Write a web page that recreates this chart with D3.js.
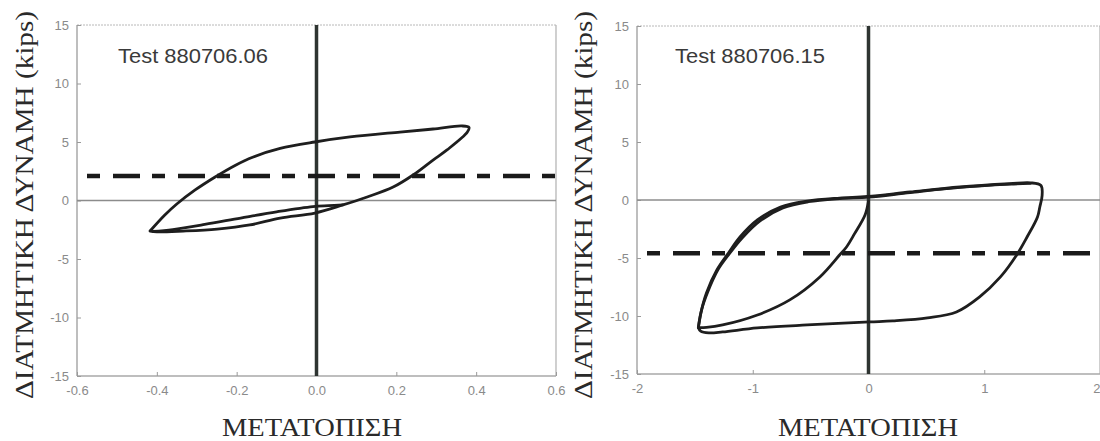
<!DOCTYPE html>
<html>
<head>
<meta charset="utf-8">
<script src="https://cdn.jsdelivr.net/npm/d3@7"></script>
<style>
  html, body { margin: 0; padding: 0; background: #fff; }
  svg { display: block; }
  .tick text { font-family: Arial, "Liberation Sans", sans-serif; font-size: 13px; fill: #8a8a8a; }
  .domain { display: none; }
  .tick line { stroke: #9a9a9a; stroke-width: 1; }
</style>
</head>
<body>
<svg id="chart" width="1100" height="441"></svg>
<script>
// ---- data: shear force (kips) vs displacement ----
const yTicks = [-15, -10, -5, 0, 5, 10, 15];
const yTickLabels = ["-15", "-10", "-5", "0", "5", "10", "15"];

const xTicksA = [-0.6, -0.4, -0.2, 0, 0.2, 0.4, 0.6];
const xTickLabelsA = ["-0.6", "-0.4", "-0.2", "0.0", "0.2", "0.4", "0.6"];
const xTicksB = [-2, -1, 0, 1, 2];
const xTickLabelsB = ["-2", "-1", "0", "1", "2"];

const titleA = "Test 880706.06";
const titleB = "Test 880706.15";
const yTitle = "ΔΙΑΤΜΗΤΙΚΗ ΔΥΝΑΜΗ (kips)";
const xTitle = "ΜΕΤΑΤΟΠΙΣΗ";

// Test 880706.06 hysteresis loop [displacement, force]
const loopA = [
  [-0.417, -2.61], [-0.380, -1.24], [-0.350, -0.30], [-0.304, 0.90], [-0.254, 2.01],
  [-0.204, 3.00], [-0.160, 3.70], [-0.091, 4.45], [-0.004, 5.00], [0.084, 5.43],
  [0.209, 5.85], [0.292, 6.11], [0.364, 6.37], [0.382, 6.25], [0.378, 5.85],
  [0.327, 4.32], [0.292, 3.46], [0.242, 2.18], [0.192, 1.15], [0.127, 0.30],
  [0.066, -0.38], [-0.004, -1.07], [-0.091, -1.50], [-0.167, -2.09], [-0.249, -2.44],
  [-0.334, -2.61], [-0.400, -2.68], [-0.417, -2.61]
];
// earlier pass on the negative side (inner branch)
const innerA = [
  [0.066, -0.38], [0.03, -0.44], [-0.009, -0.52], [-0.10, -0.97], [-0.19, -1.50],
  [-0.28, -2.05], [-0.36, -2.48], [-0.41, -2.64]
];
const dashA = 2.1;

// Test 880706.15: first loading from origin, then full cycles
const firstB = [
  [0.0, -0.10], [-0.03, -1.29], [-0.12, -2.90], [-0.19, -4.05], [-0.25, -4.74], [-0.42, -6.63],
  [-0.68, -8.61], [-0.96, -9.91], [-1.26, -10.77], [-1.40, -10.98], [-1.47, -11.0]
];
const loopB = [
  [-1.47, -11.0], [-1.45, -9.8], [-1.40, -8.01], [-1.31, -6.03], [-1.21, -4.57],
  [-1.11, -3.19], [-0.96, -1.72], [-0.76, -0.60], [-0.53, -0.09], [-0.25, 0.17],
  [-0.01, 0.30], [0.36, 0.69], [0.79, 1.12], [1.22, 1.40], [1.40, 1.48],
  [1.49, 1.25], [1.50, 0.40], [1.48, -0.60], [1.46, -1.46], [1.37, -3.19], [1.28, -4.74],
  [1.14, -6.63], [0.96, -8.35], [0.76, -9.65], [0.51, -10.16], [0.21, -10.42],
  [0.01, -10.51], [-0.53, -10.77], [-0.96, -11.03], [-1.26, -11.37], [-1.38, -11.45],
  [-1.45, -11.30], [-1.47, -11.0]
];
const secondB = [
  [-1.47, -11.0], [-1.44, -9.4], [-1.39, -7.95], [-1.30, -6.0], [-1.20, -4.6],
  [-1.09, -3.25], [-0.94, -1.82], [-0.74, -0.68], [-0.52, -0.15], [-0.25, 0.12], [0.0, 0.24],
  [0.36, 0.64], [0.79, 1.08], [1.22, 1.36], [1.40, 1.44]
];
const dashB = -4.6;

const svg = d3.select("#chart");

const panels = [
  { x: d3.scaleLinear([-0.6, 0.6], [77, 556]), y: d3.scaleLinear([-15, 15], [376, 25]),
    xTicks: xTicksA, xLabels: xTickLabelsA, title: titleA, titleX: 118,
    curves: [loopA, innerA], dash: dashA, yTitleX: 24, xTitleX: 312 },
  { x: d3.scaleLinear([-2, 2], [637, 1100]), y: d3.scaleLinear([-15, 15], [374, 26]),
    xTicks: xTicksB, xLabels: xTickLabelsB, title: titleB, titleX: 675,
    curves: [loopB, firstB, secondB], dash: dashB, yTitleX: 583, xTitleX: 868 }
];

panels.forEach(p => {
  const g = svg.append("g");
  const [x0, x1] = p.x.range();
  const [yb, yt] = p.y.range();

  // frame
  g.append("line").attr("x1", x0).attr("x2", x1).attr("y1", yt).attr("y2", yt)
    .attr("stroke", "#b8b8b8").attr("stroke-width", 1).attr("stroke-dasharray", "2,1");
  g.append("line").attr("x1", x1).attr("x2", x1).attr("y1", yt).attr("y2", yb)
    .attr("stroke", "#b0b0b0").attr("stroke-width", 1.2);
  g.append("line").attr("x1", x0).attr("x2", x1).attr("y1", yb).attr("y2", yb)
    .attr("stroke", "#a8a8a8").attr("stroke-width", 1.5);
  g.append("line").attr("x1", x0).attr("x2", x0).attr("y1", yt).attr("y2", yb)
    .attr("stroke", "#a8a8a8").attr("stroke-width", 1.5);

  // axes
  g.append("g").attr("transform", `translate(${x0},0)`)
    .call(d3.axisLeft(p.y).tickValues(yTicks).tickFormat((d, i) => yTickLabels[i])
      .tickSizeInner(-4).tickSizeOuter(0).tickPadding(8));
  const xAxis = g.append("g").attr("transform", `translate(0,${yb})`)
    .call(d3.axisBottom(p.x).tickValues(p.xTicks).tickFormat((d, i) => p.xLabels[i])
      .tickSizeInner(-4).tickSizeOuter(0).tickPadding(10));
  // keep a label at the canvas edge inside it
  xAxis.selectAll(".tick").filter(d => p.x(d) > 1090).select("text").attr("text-anchor", "end");

  // zero lines
  g.append("line").attr("x1", x0).attr("x2", x1).attr("y1", p.y(0)).attr("y2", p.y(0))
    .attr("stroke", "#8c8c8c").attr("stroke-width", 1.6);
  g.append("line").attr("x1", p.x(0)).attr("x2", p.x(0)).attr("y1", yt).attr("y2", yb)
    .attr("stroke", "#2e3431").attr("stroke-width", 3.5);

  // dashed reference level
  g.append("line").attr("x1", x0 + 10).attr("x2", x1).attr("y1", p.y(p.dash)).attr("y2", p.y(p.dash))
    .attr("stroke", "#1a1a1a").attr("stroke-width", 4.5).attr("stroke-dasharray", "13,13,27,12");

  // hysteresis curves
  const line = d3.line().x(d => p.x(d[0])).y(d => p.y(d[1])).curve(d3.curveCatmullRom.alpha(0.5));
  p.curves.forEach(c => {
    g.append("path").attr("d", line(c)).attr("fill", "none")
      .attr("stroke", "#1e1e1e").attr("stroke-width", 2.8)
      .attr("stroke-linejoin", "round").attr("stroke-linecap", "round");
  });

  // panel title
  g.append("text").attr("x", p.titleX).attr("y", 63).text(p.title)
    .attr("font-family", "Arial, 'Liberation Sans', sans-serif").attr("font-size", 20)
    .attr("textLength", 150).attr("lengthAdjust", "spacingAndGlyphs")
    .attr("fill", "#3a3a3a");

  // axis titles
  g.append("text").attr("transform", `translate(${p.yTitleX},${205}) rotate(-90)`)
    .attr("text-anchor", "middle").attr("dy", "0.35em").text(yTitle)
    .attr("font-family", "'Liberation Serif', 'DejaVu Serif', serif").attr("font-size", 25)
    .attr("textLength", 388).attr("lengthAdjust", "spacingAndGlyphs")
    .attr("fill", "#2a2a2a");
  g.append("text").attr("x", p.xTitleX).attr("y", 436)
    .attr("text-anchor", "middle").text(xTitle)
    .attr("font-family", "'Liberation Serif', 'DejaVu Serif', serif").attr("font-size", 25)
    .attr("textLength", 180).attr("lengthAdjust", "spacingAndGlyphs")
    .attr("fill", "#2a2a2a");
});
</script>
</body>
</html>
